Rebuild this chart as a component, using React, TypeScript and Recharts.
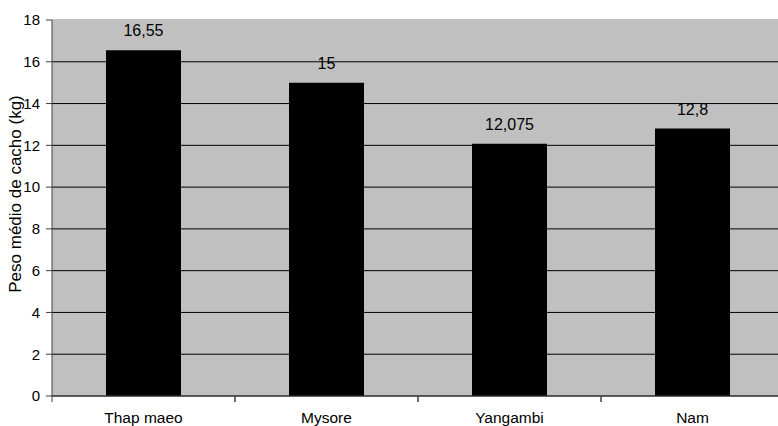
import { BarChart, Bar, XAxis, YAxis, CartesianGrid, LabelList, ReferenceLine } from "recharts"

const cultivares = ["Thap maeo", "Mysore", "Yangambi", "Nam"]
const pesoMedio = [16.55, 15, 12.075, 12.8]
const yTicks = [0, 2, 4, 6, 8, 10, 12, 14, 16, 18]

const data = cultivares.map((nome, i) => ({ nome, peso: pesoMedio[i] }))

const FONT = "'Liberation Sans', Arial, sans-serif"

// category label in the middle, tick mark on the band boundaries (Excel style)
function CategoryTick(props: any) {
  const { x, y, payload } = props
  const half = payload?.offset ?? 0
  const axisY = y - 16
  return (
    <g>
      <line x1={x - half} x2={x - half} y1={axisY} y2={axisY + 6} stroke="#404040" />
      <line x1={x + half} x2={x + half} y1={axisY} y2={axisY + 6} stroke="#404040" />
      <text x={x} y={y} dy="0.71em" textAnchor="middle" fill="#000" fontSize={15.5} fontFamily={FONT}>
        {payload.value}
      </text>
    </g>
  )
}

function YLabel(props: any) {
  const vb = props.viewBox || {}
  const cx = 21
  const cy = (vb.y ?? 20) + (vb.height ?? 376) / 2 - 14
  return (
    <text
      x={cx}
      y={cy}
      transform={`rotate(-90, ${cx}, ${cy})`}
      textAnchor="middle"
      fill="#000"
      fontSize={17}
      fontFamily={FONT}
    >
      Peso médio de cacho (kg)
    </text>
  )
}

export default function App() {
  return (
    <div
      style={{
        position: "absolute",
        left: 0,
        top: 0,
        width: 778,
        height: 426,
        overflow: "hidden",
        background: "#fff",
        fontFamily: FONT,
      }}
    >
      <BarChart width={800} height={426} data={data} margin={{ top: 20, right: 16, bottom: 0, left: 0 }} barSize={75}>
        <CartesianGrid vertical={false} fill="#c0c0c0" fillOpacity={1} stroke="#000" />
        {/* no border line along the top of the plot area */}
        <ReferenceLine y={18} stroke="#c0c0c0" strokeWidth={2} />
        <XAxis
          dataKey="nome"
          height={30}
          axisLine={{ stroke: "#404040" }}
          tickLine={false}
          tickSize={6}
          tickMargin={10}
          tick={<CategoryTick />}
          interval={0}
        />
        <YAxis
          width={52}
          domain={[0, 18]}
          ticks={yTicks}
          interval={0}
          axisLine={{ stroke: "#404040" }}
          tickLine={{ stroke: "#404040" }}
          tickSize={6}
          tickMargin={6}
          tick={{ fill: "#000", fontSize: 15, fontFamily: FONT }}
          label={{ content: <YLabel /> }}
        />
        <Bar dataKey="peso" fill="#000" isAnimationActive={false}>
          <LabelList
            dataKey="peso"
            position="top"
            offset={14}
            fill="#000"
            fontSize={16}
            fontFamily={FONT}
            formatter={(v: any) => String(v).replace(".", ",")}
          />
        </Bar>
      </BarChart>
    </div>
  )
}
